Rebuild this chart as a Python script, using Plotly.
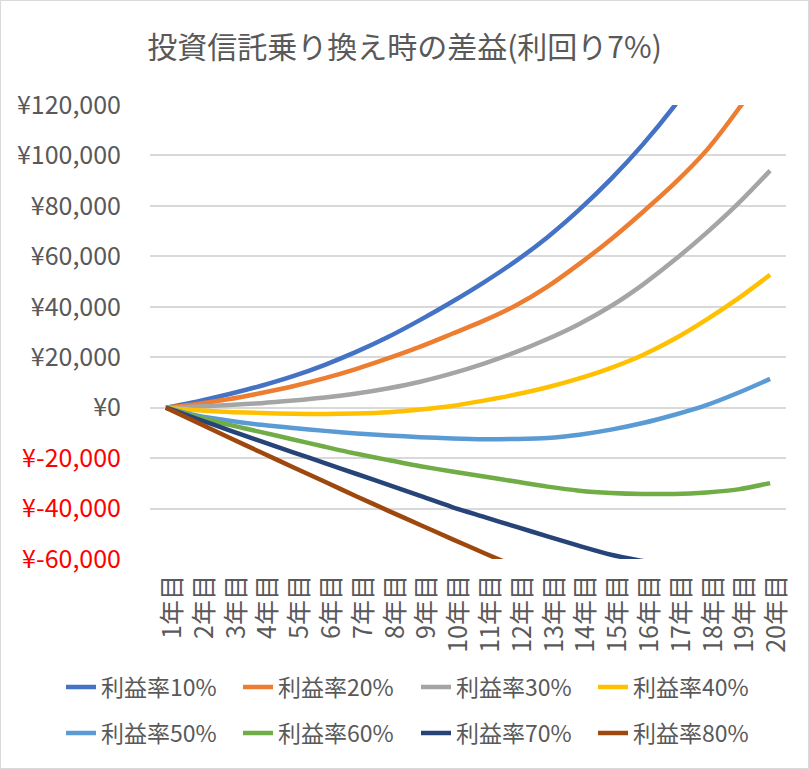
import plotly.graph_objects as go

years = ["1年目", "2年目", "3年目", "4年目", "5年目", "6年目", "7年目", "8年目", "9年目", "10年目",
         "11年目", "12年目", "13年目", "14年目", "15年目", "16年目", "17年目", "18年目", "19年目", "20年目"]

r10 = [0, 2500, 5400, 8700, 12500, 17000, 22200, 28100, 34800, 42000,
       49700, 58100, 67600, 78500, 90700, 104400, 119800, 137000, 156000, 176000]
r20 = [0, 1500, 3400, 5800, 8500, 11700, 15400, 19600, 24200, 29300,
       34500, 40500, 48000, 57000, 66800, 77600, 89000, 102000, 118300, 136500]
r30 = [0, 500, 1100, 1800, 2800, 4000, 5600, 7700, 10300, 13600,
       17500, 22000, 27200, 33200, 40300, 48800, 58600, 69300, 81000, 94000]
r40 = [0, -1000, -1700, -2100, -2400, -2500, -2300, -1800, -700, 700,
       2800, 5200, 8100, 11600, 15800, 20900, 27300, 34900, 43300, 52700]
r50 = [0, -3200, -5200, -6800, -8100, -9200, -10200, -11000, -11700, -12200,
       -12500, -12400, -12000, -10700, -8700, -6100, -2800, 1000, 5900, 11400]
r60 = [0, -3800, -6800, -9700, -12600, -15500, -18300, -20800, -23200, -25300,
       -27300, -29300, -31300, -32900, -33800, -34200, -34200, -33600, -32400, -29900]
r70 = [0, -4500, -9000, -13400, -17700, -22000, -26300, -30600, -35000, -39400,
       -43300, -47200, -51000, -54800, -58300, -60800, -63000, -65000, -66800, -68400]
r80 = [0, -6000, -11900, -17800, -23600, -29400, -35200, -40900, -46500, -52100,
       -57600, -63000, -68400, -73700, -79000, -84200, -89300, -94400, -99400, -104300]

series_names = ["利益率10%", "利益率20%", "利益率30%", "利益率40%",
                "利益率50%", "利益率60%", "利益率70%", "利益率80%"]
series_values = [r10, r20, r30, r40, r50, r60, r70, r80]
colors = ["#4472C4", "#ED7D31", "#A5A5A5", "#FFC000",
          "#5B9BD5", "#70AD47", "#264478", "#9E480E"]

y_tickvals = [120000, 100000, 80000, 60000, 40000, 20000, 0, -20000, -40000, -60000]
y_ticktext = ["¥120,000", "¥100,000", "¥80,000", "¥60,000", "¥40,000", "¥20,000", "¥0",
              "<span style='color:#FF0000'>¥-20,000</span>",
              "<span style='color:#FF0000'>¥-40,000</span>",
              "<span style='color:#FF0000'>¥-60,000</span>"]

FONT = "Noto Sans CJK JP"
TXT = "#595959"

W, H = 809, 769
ml, mr, mt, mb = 150, 23, 105, 210

# legend layout: 4 columns x 2 rows, one legend per entry
legend_cols_px = [61, 238, 416, 593]
legend_rows_px = [687, 733]

fig = go.Figure()
layout_legends = {}
for i, (name, vals, col) in enumerate(zip(series_names, series_values, colors)):
    lg = "legend" if i == 0 else f"legend{i + 1}"
    fig.add_trace(go.Scatter(
        x=years, y=vals, name=name, mode="lines",
        line=dict(color=col, width=4.5, shape="spline", smoothing=0.8),
        legend=lg,
    ))
    layout_legends[lg] = dict(
        orientation="h", xref="container", yref="container",
        x=legend_cols_px[i % 4] / W, xanchor="left",
        y=1 - legend_rows_px[i // 4] / H, yanchor="middle",
        font=dict(family=FONT, size=23, color=TXT), bgcolor="rgba(0,0,0,0)",
    )

fig.update_layout(
    width=W, height=H,
    margin=dict(l=ml, r=mr, t=mt, b=mb),
    paper_bgcolor="white", plot_bgcolor="white",
    font=dict(family=FONT, color=TXT),
    title=dict(text="投資信託乗り換え時の差益(利回り7%)", x=0.5, xref="container", xanchor="center",
               y=1 - 47 / H, yref="container", yanchor="middle",
               font=dict(family=FONT, size=30, color=TXT)),
    xaxis=dict(type="category", range=[-0.5, 19.5], showgrid=False, zeroline=False,
               showline=False, ticks="", tickangle=-90, automargin=False,
               tickfont=dict(family=FONT, size=25, color=TXT),
               ticklabelstandoff=10, ticklabelshift=7),
    yaxis=dict(range=[-60000, 120000], tickvals=y_tickvals, ticktext=y_ticktext,
               showgrid=True, gridcolor="#D9D9D9", gridwidth=1.5, zeroline=False,
               showline=False, ticks="", automargin=False,
               tickfont=dict(family=FONT, size=25, color=TXT), ticklabelstandoff=28),
    showlegend=True,
    **layout_legends,
)

# chart border (light gray frame around the whole chart)
pw, ph = W - ml - mr, H - mt - mb
def px_to_paper_x(px):
    return (px - ml) / pw
def px_to_paper_y(py):
    return (H - mb - py) / ph
fig.add_shape(type="rect", xref="paper", yref="paper",
              x0=px_to_paper_x(0.5), x1=px_to_paper_x(W - 0.5),
              y0=px_to_paper_y(H - 0.5), y1=px_to_paper_y(0.5),
              line=dict(color="#D9D9D9", width=1), fillcolor="rgba(0,0,0,0)", layer="below")

fig.write_html("out.html", config={"displayModeBar": False},
               post_script="document.body.style.margin='0px';")
